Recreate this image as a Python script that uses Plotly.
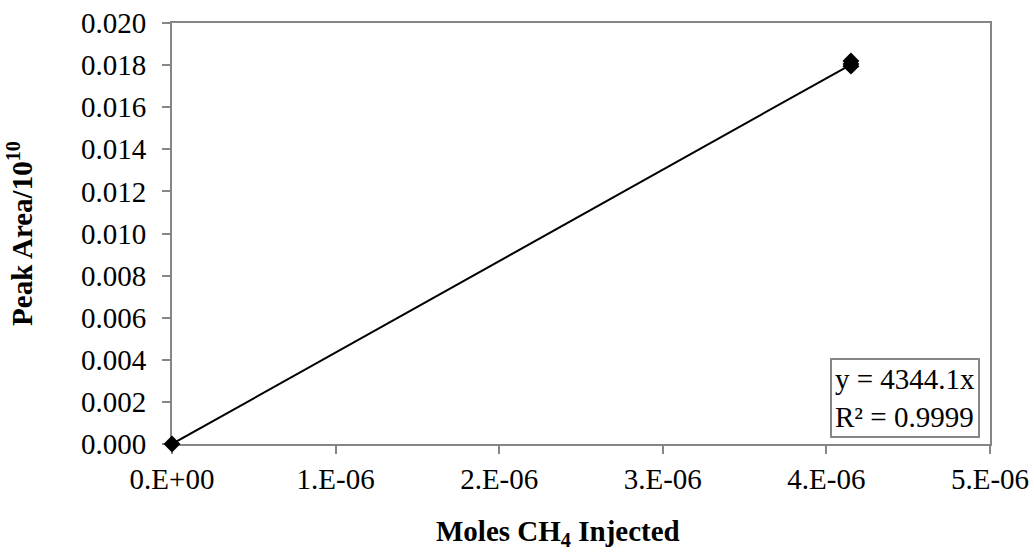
import plotly.graph_objects as go

# Calibration data: moles of methane injected vs. GC peak area (scaled by 1e10)
moles_ch4 = [0.0, 4.15e-6, 4.15e-6, 4.15e-6]
peak_area = [0.0, 0.01795, 0.01805, 0.01820]

# Linear fit through the origin
slope = 4344.1
r_squared = 0.9999
fit_x = [0.0, 4.15e-6]
fit_y = [slope * v for v in fit_x]

x_tickvals = [0, 1e-6, 2e-6, 3e-6, 4e-6, 5e-6]
x_ticktext = ["0.E+00", "1.E-06", "2.E-06", "3.E-06", "4.E-06", "5.E-06"]
y_tickvals = [0.000, 0.002, 0.004, 0.006, 0.008, 0.010, 0.012, 0.014, 0.016, 0.018, 0.020]
y_ticktext = [f"{v:.3f}" for v in y_tickvals]

FONT = "Liberation Serif, Times New Roman, serif"
FS = 29
AXIS_GRAY = "#868686"

fig = go.Figure()
fig.add_trace(go.Scatter(
    x=fit_x, y=fit_y, mode="lines",
    line=dict(color="black", width=2),
    showlegend=False, hoverinfo="skip",
))
fig.add_trace(go.Scatter(
    x=moles_ch4, y=peak_area, mode="markers",
    marker=dict(symbol="diamond", size=13, color="black"),
    showlegend=False, cliponaxis=False,
))

# Trendline equation box
fig.add_annotation(
    x=0.988, y=0.014, xref="paper", yref="paper",
    xanchor="right", yanchor="bottom",
    text=f"y = {slope}x<br>R² = {r_squared}",
    showarrow=False, align="left",
    font=dict(family=FONT, size=FS, color="black"),
    bordercolor=AXIS_GRAY, borderwidth=2, borderpad=3,
    bgcolor="white",
)

# X-axis title
fig.add_annotation(
    x=0.472, y=-0.212, xref="paper", yref="paper",
    xanchor="center", yanchor="middle",
    text="<b>Moles CH<sub>4</sub> Injected</b>",
    showarrow=False,
    font=dict(family=FONT, size=FS, color="black"),
)

axis_style = dict(
    showgrid=False, zeroline=False, automargin=False,
    showline=True, linecolor=AXIS_GRAY, linewidth=2, mirror=True,
    ticks="outside", ticklen=8, tickcolor=AXIS_GRAY, tickwidth=2,
    layer="below traces",
)

fig.update_layout(
    width=1034, height=554,
    margin=dict(l=172, r=44, t=23, b=110),
    paper_bgcolor="white", plot_bgcolor="white",
    font=dict(family=FONT, size=FS, color="black"),
    xaxis=dict(
        range=[0, 5e-6], tickvals=x_tickvals, ticktext=x_ticktext,
        **axis_style,
    ),
    yaxis=dict(
        range=[0, 0.020], tickvals=y_tickvals, ticktext=y_ticktext,
        ticklabelstandoff=10,
        title=dict(text="<b>Peak Area/10<sup>10</sup></b>",
                   font=dict(family=FONT, size=FS), standoff=40),
        **axis_style,
    ),
)

fig.write_html("out.html")
